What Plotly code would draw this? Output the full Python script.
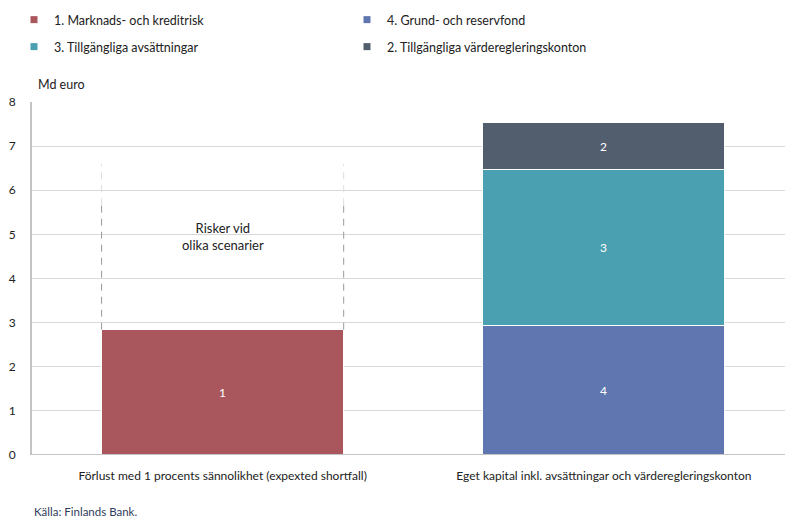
import plotly.graph_objects as go

categories = ["Förlust med 1 procents sännolikhet (expexted shortfall)",
              "Eget kapital inkl. avsättningar och värderegleringskonton"]

series_names = ["1. Marknads- och kreditrisk", "4. Grund- och reservfond",
                "3. Tillgängliga avsättningar", "2. Tillgängliga värderegleringskonton"]
series_labels = ["1", "4", "3", "2"]
series_colors = ["#a9575d", "#5f76b1", "#4aa0b0", "#525e6e"]
legend_rows = ["legend", "legend", "legend2", "legend2"]
# values per category [cat0, cat1]
series_values = [
    [2.84, None],
    [None, 2.93],
    [None, 3.54],
    [None, 1.05],
]
scenario_top = 6.6
scenario_label = "Risker vid<br>olika scenarier"
y_ticks = [0, 1, 2, 3, 4, 5, 6, 7, 8]

FONT = "Lato"
TXT = "#222222"
BAR_W = 0.635
x_pos = [0, 1]

fig = go.Figure()
for name, lab, col, vals in zip(series_names, series_labels, series_colors, series_values):
    fig.add_trace(go.Bar(
        x=x_pos, y=vals, width=BAR_W, marker=dict(color=col, line=dict(color="#ffffff", width=1)),
        text=[lab if v is not None else "" for v in vals], textposition="inside",
        insidetextanchor="middle", textfont=dict(color="white", size=12, family=FONT),
        showlegend=False, hoverinfo="skip"))

# legend entries (small square markers)
for name, col, lg in zip(series_names, series_colors, legend_rows):
    fig.add_trace(go.Scatter(x=[None], y=[None], mode="markers", name=name, legend=lg,
                             marker=dict(symbol="square", size=7, color=col)))

# dashed scenario lines at the bar edges
top0 = series_values[0][0]
mid = top0 + (scenario_top - top0) * 0.75
for xe in [x_pos[0] - BAR_W / 2, x_pos[0] + BAR_W / 2]:
    fig.add_trace(go.Scatter(x=[xe, xe], y=[top0, mid], mode="lines",
                             line=dict(color="#9a9a9a", width=1, dash="7px,6px"),
                             showlegend=False, hoverinfo="skip"))
    fig.add_trace(go.Scatter(x=[xe, xe], y=[mid, scenario_top], mode="lines",
                             line=dict(color="#dddddd", width=1, dash="7px,6px"),
                             showlegend=False, hoverinfo="skip"))

fig.add_annotation(x=x_pos[0], y=4.95, text=scenario_label, showarrow=False,
                   font=dict(family=FONT, size=13, color=TXT), align="center")

fig.add_annotation(xref="paper", yref="paper", x=0, y=1, xshift=4, yshift=8,
                   text="Md euro", showarrow=False, xanchor="left", yanchor="bottom",
                   font=dict(family=FONT, size=12.5, color=TXT))
fig.add_annotation(xref="paper", yref="paper", x=0, y=0, yshift=-56,
                   text="Källa: Finlands Bank.", showarrow=False, xanchor="left", yanchor="middle",
                   font=dict(family=FONT, size=11.5, color="#2f3d5c"))

leg_common = dict(orientation="h", xref="container", yref="container",
                  xanchor="left", yanchor="middle", entrywidth=288, entrywidthmode="pixels",
                  font=dict(family=FONT, size=12.5, color=TXT), traceorder="normal",
                  itemclick=False, bgcolor="rgba(0,0,0,0)")

fig.update_layout(
    barmode="stack",
    width=785, height=518,
    margin=dict(l=32, r=0, t=102, b=63),
    paper_bgcolor="white", plot_bgcolor="white",
    font=dict(family=FONT, size=12, color=TXT),
    legend=dict(**leg_common, x=14 / 785, y=1 - 20 / 518),
    legend2=dict(**leg_common, x=14 / 785, y=1 - 47 / 518),
    xaxis=dict(range=[-0.5, 1.475], tickvals=x_pos, ticktext=categories, showgrid=False,
               zeroline=False, showline=False, ticks="", tickfont=dict(size=12),
               ticklabelstandoff=12),
    yaxis=dict(range=[0, 8], tickvals=y_ticks, showgrid=True, gridcolor="#d9d9d9", gridwidth=1,
               zeroline=False, showline=True, linecolor="#c4c4c4", linewidth=2, ticks="",
               ticklabelstandoff=12, tickfont=dict(size=12)),
    bargap=0,
)
fig.add_shape(type="line", xref="paper", yref="y", x0=0, x1=1, y0=0, y1=0,
              line=dict(color="#c4c4c4", width=2))

fig.write_html("out.html")
